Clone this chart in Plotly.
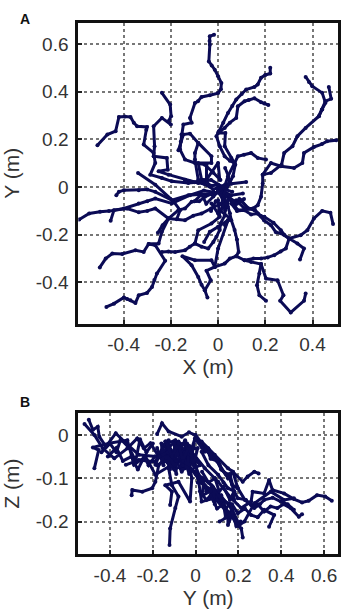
import plotly.graph_objects as go

# panel A: X / Y position of each trajectory (m)
a_x = [
    [-.017, -.035, -.036, -.035, -.039, -.027, -.014, 0, .014, .012, 0, -.035, -.07, -.085, -.098, -.119, -.112, -.147, -.155, -.158, -.161, -.14, -.098, -.056, -.02, .01],
    [.221, .221, .2, .182, .168, .154, .119, .1, .077, .06, .042, .022, .003, -.007, .007, .028, .05, .07, .084, .11, .14, .168, .203],
    [.07, .042, .028],
    [.213, .196, .182, .154, .13, .112, .084, .077, .05, .028, 0, .031, .028, .056, .073, .063, .035],
    [.371, .385, .399, .441, .455, .44, .427, .371, .336, .315, .28, .269, .224, .189, .189, .182, .168, .147, .112, .077],
    [.469, .479, .455, .441, .427],
    [.5, .462, .44, .406, .364, .357, .322, .266, .224, .189],
    [-.511, -.469, -.434, -.42, -.395, -.371, -.357, -.343, -.301, -.304, -.315, -.273, -.266, -.287, -.238, -.196, -.126, -.09, -.056, -.02, .03],
    [-.238, -.203, -.199, -.21, -.2, -.238, -.273, -.269, -.273, -.217, -.213, -.252, -.21, -.14, -.084, -.03, .02],
    [-.168, -.147, -.119, -.084, -.028, -.028, -.084, -.07],
    [-.084, -.098, -.098, -.084],
    [-.049, -.049, 0, .007],
    [.119, .056, 0],
    [-.339, -.266, -.189, -.161, -.175],
    [-.431, -.42, -.399, -.336, -.3, -.266, -.196, -.126, -.028],
    [-.588, -.546, -.5, -.462, -.399, -.336, -.3, -.266, -.196, -.119, -.06, .03],
    [-.455, -.441, -.385, -.336, -.3, -.266, -.21, -.14, -.105, -.07, -.03, .014],
    [-.255, -.235, -.21, -.168, -.14, -.112, -.08, -.056, -.03, .01],
    [-.501, -.476, -.448, -.406, -.35, -.315, -.294, -.252, -.238, -.21],
    [-.473, -.441, -.399, -.385, -.371, -.35, -.336, -.301, -.28, -.27, -.259, -.224, -.266, -.294],
    [-.238, -.21, -.182, -.14, -.12, -.098, -.07, -.042, -.02, -.007, .007, .01, .028, .03, .042],
    [-.045, -.056, -.07, -.084, -.112, -.151, -.098, -.028, -.014, -.049, -.031, -.056],
    [-.014, 0, .042],
    [-.014, .028, .05, .077, .087, .08, .07, .056, .05, .042],
    [.077, .112, .15, .182, .21, .238, .265, .287, .301, .28, .266, .235, .196, .18, .154, .125, .098, .07, .042],
    [.347, .364, .336, .301, .35, .378, .406, .441, .476, .487],
    [.301, .266, .245, .224, .195, .168, .14, .112, .08, .056],
    [.203, .175, .165, .175, .182, .14, .112],
    [.371, .364, .308, .263, .277, .252, .203, .182],
    [-.059, -.035, 0, .042],
    [-.098, -.084, -.028, .007, 0],
    [0, .056, .105],
    [.042, .084, .154, .168],
    [-.028, 0, .028, .028, 0],
    [-.14, -.1, -.06, -.03, 0, .03, .06],
    [.13, .09, .07, .04, .02, .01],
    [.03, .05, .02, .04, .01, .05, .03],
    [-.1, -.07, -.05, -.02, 0, .02],
    [-.03, -.01, .02, .05, .08, .11],
]
a_y = [
    [.639, .632, .612, .597, .527, .51, .492, .465, .436, .41, .394, .385, .378, .36, .352, .29, .27, .262, .22, .19, .157, .115, .101, .094, .06, .03],
    [.5, .476, .47, .458, .43, .42, .409, .39, .367, .34, .311, .27, .234, .213, .171, .129, .11, .101, .129, .135, .143, .122, .115],
    [.101, .045, .003],
    [.344, .35, .356, .372, .365, .36, .339, .29, .27, .248, .227, .227, .171, .122, .094, .045, -.011],
    [.462, .44, .423, .395, .353, .325, .297, .248, .213, .171, .143, .094, .059, .052, .015, -.041, -.076, -.09, -.09, -.055],
    [.42, .37, .36, .325, .297],
    [.196, .192, .18, .168, .143, .101, .08, .087, .101, .052],
    [.175, .22, .234, .294, .296, .294, .27, .255, .252, .24, .178, .143, .101, .052, .038, .024, .017, .02, .012, -.01, .01],
    [.395, .346, .297, .276, .262, .29, .255, .171, .129, .122, .073, .066, .052, .031, .017, .03, 0],
    [.154, .22, .224, .185, .129, .101, .101, .031],
    [.185, .143, .115, .031],
    [.094, .031, .101, .031],
    [.021, .014, -.011],
    [.059, .01, -.06, -.097, -.135],
    [-.034, -.02, -.013, -.013, -.01, -.02, -.055, -.034, -.027],
    [-.136, -.111, -.104, -.101, -.09, -.069, -.06, -.048, -.069, -.034, -.015, -.03],
    [-.141, -.097, -.09, -.106, -.1, -.09, -.132, -.139, -.12, -.111, -.09, -.069],
    [-.192, -.16, -.132, -.097, -.09, -.062, -.06, -.041, -.03, -.02],
    [-.337, -.3, -.279, -.281, -.265, -.272, -.239, -.237, -.188, -.132],
    [-.503, -.489, -.463, -.47, -.475, -.486, -.454, -.444, -.419, -.39, -.363, -.309, -.244, -.239],
    [-.272, -.27, -.272, -.265, -.25, -.237, -.25, -.258, -.23, -.209, -.18, -.153, -.12, -.097, -.055],
    [-.463, -.433, -.41, -.377, -.328, -.29, -.307, -.307, -.335, -.351, -.391, -.433],
    [-.335, -.258, -.139],
    [-.335, -.321, -.3, -.29, -.272, -.22, -.18, -.139, -.11, -.083],
    [-.29, -.307, -.3, -.3, -.295, -.286, -.27, -.258, -.216, -.2, -.181, -.15, -.125, -.12, -.097, -.09, -.055, -.06, -.041],
    [-.304, -.258, -.237, -.216, -.202, -.181, -.132, -.1, -.108, -.155],
    [-.216, -.194, -.19, -.16, -.14, -.111, -.115, -.097, -.1, -.069],
    [-.477, -.454, -.412, -.363, -.323, -.314, -.307],
    [-.447, -.477, -.526, -.477, -.454, -.391, -.384, -.323],
    [-.23, -.188, -.167, -.139],
    [-.237, -.181, -.153, -.125, -.055],
    [-.013, -.034, -.027],
    [-.041, -.097, -.09, -.111],
    [-.069, -.111, -.069, -.013, -.004],
    [.03, .02, .03, .005, .01, -.01, -.02],
    [-.09, -.05, -.08, -.03, -.06, -.01],
    [.08, .03, -.04, -.07, -.1, -.13, -.16],
    [-.06, -.03, -.07, -.04, -.02, -.05],
    [-.1, -.06, -.08, -.05, -.07, -.05],
]

# panel B: Y / Z position of each trajectory (m)
b_x = [
    [0, .03, .059, .08, .105, .12, .151, .17, .197, .23, .259, .29, .32, .35, .382, .41, .444, .482, .497],
    [.636, .605, .567, .528, .497, .459, .413, .359, .343, .32, .266, .259, .213, .166, .105, .043, -.018],
    [.294, .274, .243, .22, .174, .151, .112, .059, -.003],
    [.22, .213, .19, .166, .14, .105, .08, .043, .02, -.003, -.03, -.049, -.07, -.095],
    [.343, .367, .32, .29, .259, .23, .197, .17, .136, .1, .059, .03, -.003, -.03, -.049],
    [-.122, -.119, -.095, -.08, -.111, -.126, -.095, -.049],
    [-.299, -.296, -.249, -.203, -.188, -.172, -.126, -.049],
    [-.18, -.157, -.126, -.065, -.031, -.003, .043],
    [-.499, -.48, -.457, -.45, -.419, -.373, -.326, -.265, -.188, -.095, -.003],
    [-.519, -.473, -.434, -.38, -.319, -.273, -.242, -.211, -.172, -.095, -.003],
    [-.473, -.453, -.48, -.403, -.319, -.288, -.234, -.188, -.111, -.034],
    [-.326, -.265, -.188, -.134, -.065, -.018],
    [-.119, -.111, -.142, -.08, -.026, -.018, -.034, -.08, -.134, -.142],
    [.112, .151, .151, .166, .089, .028, .012, -.034],
    [.459, .43, .398, .36, .32, .3, .274, .235, .197, .18, .151, .13, .105, .06, .028],
    [.459, .413, .351, .274, .228, .205, .166, .074, .012],
    [-.126, -.111, -.049, -.026, -.003, -.049, -.095, -.15, -.188],
    [.197, .174, .151, .089, .028],
    [-.18, -.15, -.16, -.12, -.13, -.09, -.1, -.06, -.07, -.03, -.04, 0],
    [-.17, -.13, -.09, -.05, -.01, .02, -.02, -.06, -.1, -.14, -.18],
    [-.14, -.11, -.08, -.06, -.03, -.01, .01],
    [0, .03, .05, .08, .1, .12, .14, .16],
    [.01, .04, .03, .07, .09, .08, .12, .15, .17, .2],
    [.03, .06, .09, .11, .13, .16, .18],
    [.02, .05, .07, .1, .13, .14, .17, .19, .21],
    [0, .03, .06, .07, .1, .12, .14, .16, .175, .18],
    [-.44, -.4, -.37, -.35, -.31, -.28, -.26, -.23, -.2],
    [-.41, -.37, -.34, -.3, -.27, -.24, -.22, -.19],
]
b_y = [
    [0, -.02, -.031, -.05, -.058, -.08, -.092, -.115, -.123, -.15, -.162, -.16, -.177, -.165, -.169, -.16, -.169, -.189, -.183],
    [-.152, -.142, -.139, -.152, -.156, -.148, -.135, -.127, -.104, -.135, -.131, -.154, -.169, -.146, -.108, -.077, -.039],
    [-.089, -.085, -.096, -.108, -.085, -.1, -.069, -.039, -.008],
    [-.237, -.216, -.205, -.185, -.17, -.146, -.14, -.116, -.11, -.085, -.08, -.054, -.05, -.023],
    [-.212, -.185, -.173, -.19, -.185, -.17, -.181, -.16, -.154, -.14, -.123, -.11, -.069, -.06, -.023],
    [-.254, -.216, -.169, -.142, -.116, -.077, -.039, -.015],
    [-.139, -.127, -.131, -.123, -.108, -.069, -.046, -.031],
    [.002, .027, .008, -.004, .006, 0, -.039],
    [.035, .012, .019, -.004, -.027, .004, -.019, -.046, -.05, -.062, -.062],
    [.025, 0, -.031, -.054, -.031, -.008, -.031, -.019, -.05, -.015, -.031],
    [-.077, -.035, -.029, -.019, -.012, -.069, -.05, -.092, -.069, -.046],
    [-.069, -.058, -.062, -.015, -.085, -.039],
    [-.162, -.131, -.116, -.108, -.154, -.1, -.054, -.015, -.062, -.015],
    [-.2, -.189, -.208, -.189, -.146, -.154, -.1, -.069],
    [-.173, -.16, -.154, -.145, -.15, -.16, -.169, -.15, -.146, -.13, -.123, -.11, -.092, -.07, -.039],
    [-.146, -.15, -.131, -.158, -.2, -.208, -.169, -.116, -.092],
    [-.012, -.069, -.012, -.069, -.008, -.077, -.012, -.023, -.069],
    [-.123, -.085, -.077, -.046, -.015],
    [-.03, -.07, -.02, -.08, -.03, -.09, -.02, -.08, -.03, -.09, -.02, -.06],
    [-.05, -.04, -.06, -.04, -.05, -.07, -.08, -.07, -.08, -.06, -.07],
    [-.015, -.05, -.02, -.06, -.025, -.07, -.03],
    [-.09, -.1, -.13, -.12, -.15, -.14, -.17, -.16],
    [-.11, -.1, -.14, -.13, -.16, -.12, -.15, -.19, -.17, -.21],
    [-.085, -.11, -.1, -.13, -.12, -.15, -.13],
    [-.13, -.15, -.14, -.17, -.16, -.19, -.18, -.21, -.2],
    [-.01, -.03, -.04, -.055, -.06, -.08, -.09, -.09, -.12, -.15],
    [-.04, -.02, -.04, -.01, -.03, -.06, -.01, -.04, -.02],
    [-.05, -.03, -.06, -.05, -.08, -.05, -.07, -.05],
]

a_xticks = [-0.4, -0.2, 0, 0.2, 0.4]
a_yticks = [-0.4, -0.2, 0, 0.2, 0.4, 0.6]
b_xticks = [-0.4, -0.2, 0, 0.2, 0.4, 0.6]
b_yticks = [-0.2, -0.1, 0]

line_color = "#0b0b55"
text_color = "#333333"

fig = go.Figure()
for xs, ys in zip(a_x, a_y):
    fig.add_trace(go.Scatter(x=xs, y=ys, xaxis="x", yaxis="y", mode="lines+markers",
                             line=dict(color=line_color, width=3), marker=dict(color=line_color, size=4)))
for xs, ys in zip(b_x, b_y):
    fig.add_trace(go.Scatter(x=xs, y=ys, xaxis="x2", yaxis="y2", mode="lines+markers",
                             line=dict(color=line_color, width=3), marker=dict(color=line_color, size=4)))


def axis(vals, rng, domain, anchor, title, standoff, label_gap):
    return dict(
        domain=domain, anchor=anchor, range=rng, tickmode="array", tickvals=vals,
        ticktext=[("%g" % v) for v in vals],
        showgrid=True, gridcolor="#777777", griddash="dot", gridwidth=2, zeroline=False,
        showline=True, linecolor="#111111", linewidth=3, mirror=True,
        ticks="inside", ticklen=4, tickcolor="#222222", tickwidth=2,
        tickfont=dict(size=19, color=text_color), ticklabelstandoff=label_gap,
        title=dict(text=title, font=dict(size=21, color=text_color), standoff=standoff),
    )


fig.update_layout(
    width=341, height=613, margin=dict(l=0, r=0, t=0, b=0),
    paper_bgcolor="white", plot_bgcolor="white", showlegend=False,
    font=dict(family="Liberation Sans, Arial, sans-serif"),
    xaxis=axis(a_xticks, [-0.592, 0.508], [0.2317, 1], "y", "X (m)", 5, 2),
    yaxis=axis(a_yticks, [-0.573, 0.688], [0.472, 0.9625], "x", "Y (m)", 16, 3),
    xaxis2=axis(b_xticks, [-0.548, 0.665], [0.2317, 1], "y2", "Y (m)", 5, 2),
    yaxis2=axis(b_yticks, [-0.275, 0.05], [0.0962, 0.3258], "x2", "Z (m)", 16, 3),
    annotations=[
        dict(text="<b>A</b>", x=18 / 341, y=1 - 9 / 613, xref="paper", yref="paper", showarrow=False,
             font=dict(size=14, color="#111111")),
        dict(text="<b>B</b>", x=18 / 341, y=1 - 402 / 613, xref="paper", yref="paper", showarrow=False,
             font=dict(size=14, color="#111111")),
    ],
)

# default page margin would push the figure 8px off
fig.write_html("out.html", config=dict(displayModeBar=False), post_script="document.body.style.margin='0';")
